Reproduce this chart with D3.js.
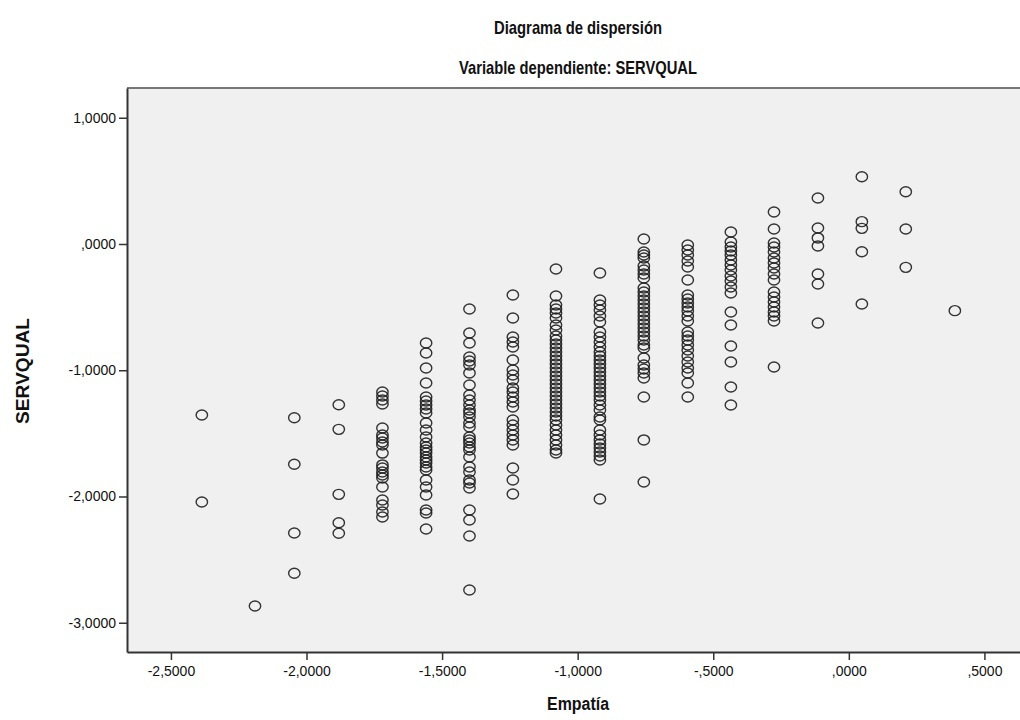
<!DOCTYPE html>
<html>
<head>
<meta charset="utf-8">
<title>Diagrama de dispersión</title>
<script src="https://d3js.org/d3.v7.min.js"></script>
<style>
    body { margin: 0; background: #ffffff; }
    svg text { font-family: "Liberation Sans", Arial, sans-serif; fill: #111; }
</style>
</head>
<body>
<div id="chart"></div>
<script>
// Empatía value of each column of points
var empatiaCols = [-2.386, -2.190, -2.045, -1.881, -1.720, -1.559, -1.399, -1.239,
    -1.080, -0.918, -0.756, -0.594, -0.435, -0.276, -0.114, 0.048, 0.210, 0.391];

// SERVQUAL values in each column
var servqualCols = [
    [-1.354, -2.044],
    [-2.867],
    [-1.376, -1.745, -2.289, -2.608],
    [-1.273, -1.468, -1.983, -2.208, -2.291],
    [-1.172, -1.204, -1.236, -1.267, -1.457, -1.513, -1.537, -1.568, -1.592, -1.656,
     -1.750, -1.774, -1.806, -1.830, -1.853, -1.925, -2.028, -2.067, -2.123, -2.162],
    [-0.784, -0.863, -0.982, -1.101, -1.212, -1.244, -1.275, -1.307, -1.339, -1.418,
     -1.473, -1.529, -1.576, -1.608, -1.632, -1.656, -1.687, -1.711, -1.735, -1.766,
     -1.790, -1.869, -1.925, -1.988, -2.107, -2.131, -2.257],
    [-0.515, -0.705, -0.784, -0.895, -0.927, -0.958, -1.022, -1.117, -1.196, -1.236,
     -1.275, -1.315, -1.339, -1.370, -1.418, -1.450, -1.529, -1.552, -1.576, -1.608,
     -1.632, -1.687, -1.766, -1.806, -1.869, -1.893, -1.933, -2.107, -2.186, -2.313, -2.741],
    [-0.404, -0.586, -0.737, -0.776, -0.816, -0.919, -0.998, -1.038, -1.077, -1.141,
     -1.172, -1.212, -1.251, -1.291, -1.394, -1.434, -1.473, -1.513, -1.552, -1.592,
     -1.774, -1.869, -1.980],
    [-0.198, -0.412, -0.483, -0.515, -0.547, -0.586, -0.642, -0.681, -0.729, -0.760,
     -0.792, -0.824, -0.855, -0.887, -0.919, -0.950, -0.982, -1.014, -1.046, -1.077,
     -1.109, -1.141, -1.172, -1.204, -1.236, -1.267, -1.299, -1.331, -1.362, -1.394,
     -1.434, -1.473, -1.513, -1.552, -1.592, -1.632, -1.655],
    [-0.230, -0.444, -0.483, -0.523, -0.570, -0.618, -0.697, -0.737, -0.776, -0.816,
     -0.855, -0.887, -0.919, -0.950, -0.982, -1.014, -1.046, -1.077, -1.109, -1.141,
     -1.172, -1.204, -1.236, -1.275, -1.315, -1.370, -1.394, -1.473, -1.513, -1.552,
     -1.584, -1.616, -1.648, -1.679, -1.711, -2.020],
    [0.040, -0.063, -0.087, -0.111, -0.174, -0.206, -0.238, -0.269, -0.349, -0.380,
     -0.412, -0.444, -0.475, -0.507, -0.539, -0.570, -0.602, -0.634, -0.665, -0.697,
     -0.729, -0.760, -0.800, -0.824, -0.903, -0.958, -0.990, -1.022, -1.061, -1.212,
     -1.552, -1.885],
    [-0.008, -0.048, -0.087, -0.135, -0.182, -0.285, -0.404, -0.436, -0.467, -0.499,
     -0.531, -0.570, -0.610, -0.697, -0.729, -0.760, -0.800, -0.840, -0.887, -0.935,
     -0.982, -1.022, -1.101, -1.212],
    [0.095, 0.016, -0.024, -0.055, -0.087, -0.127, -0.166, -0.206, -0.253, -0.293,
     -0.341, -0.388, -0.539, -0.642, -0.808, -0.935, -1.133, -1.275],
    [0.253, 0.119, 0.008, -0.024, -0.063, -0.111, -0.150, -0.190, -0.238, -0.285,
     -0.380, -0.420, -0.459, -0.499, -0.539, -0.570, -0.610, -0.974],
    [0.364, 0.127, 0.048, -0.016, -0.238, -0.317, -0.626],
    [0.533, 0.177, 0.124, -0.061, -0.475],
    [0.414, 0.119, -0.185],
    [-0.528]
];

var xTicks = [-2.5, -2.0, -1.5, -1.0, -0.5, 0.0, 0.5];
var yTicks = [1, 0, -1, -2, -3];

var margin = { top: 88, right: 0, bottom: 68, left: 127 },
    width = 1022 - margin.left,
    height = 720 - margin.top - margin.bottom;

var svg = d3.select("#chart")
    .append("svg")
    .attr("width", 1020)
    .attr("height", 720)
    .style("display", "block");

var g = svg.append("g")
    .attr("transform", "translate(" + margin.left + "," + margin.top + ")");

var x = d3.scaleLinear()
    .domain([-2.662, 0.6386])
    .range([0, width]);

var y = d3.scaleLinear()
    .domain([-3.2317, 1.2356])
    .range([height, 0]);

// spanish style labels: 1,0000  ,0000  -,5000
function spss(v) {
    var s = d3.format(".4f")(Math.abs(v));
    if (s.charAt(0) == "0") s = s.slice(1);
    s = s.replace(".", ",");
    return (v < 0 ? "-" : "") + s;
}

// plot background
g.append("rect")
    .attr("width", width)
    .attr("height", height)
    .attr("fill", "#f0f0f0");

g.append("line")
    .attr("x1", 0).attr("x2", width)
    .attr("y1", 0).attr("y2", 0)
    .attr("stroke", "#777")
    .attr("stroke-width", 2);

// points
var pts = [];
empatiaCols.forEach(function (ex, i) {
    servqualCols[i].forEach(function (sv) { pts.push([ex, sv]); });
});

g.append("g")
    .selectAll("ellipse")
    .data(pts)
    .enter()
    .append("ellipse")
    .attr("cx", function (d) { return x(d[0]); })
    .attr("cy", function (d) { return y(d[1]); })
    .attr("rx", 5.7)
    .attr("ry", 5.0)
    .attr("fill", "none")
    .attr("stroke", "#1e1e1e")
    .attr("stroke-opacity", 0.9)
    .attr("stroke-width", 1.4);

// axes
var xAxis = g.append("g")
    .attr("transform", "translate(0," + height + ")")
    .call(d3.axisBottom(x).tickValues(xTicks).tickFormat(spss).tickSize(8).tickSizeOuter(0));

var yAxis = g.append("g")
    .call(d3.axisLeft(y).tickValues(yTicks).tickFormat(spss).tickSize(8).tickSizeOuter(0));

[xAxis, yAxis].forEach(function (a) {
    a.select(".domain").attr("stroke", "#333").attr("stroke-width", 2);
    a.selectAll(".tick line").attr("stroke", "#333").attr("stroke-width", 1.5);
    a.selectAll(".tick text")
        .style("font-size", "14px")
        .attr("fill", "#111");
});
xAxis.selectAll(".tick text").attr("y", 10).attr("dy", "1em");
yAxis.selectAll(".tick text").attr("x", -11);

// titles (SPSS draws them narrow)
svg.append("text")
    .attr("x", 578)
    .attr("y", 34)
    .attr("text-anchor", "middle")
    .style("font-size", "19px")
    .style("font-weight", "bold")
    .attr("textLength", 168)
    .attr("lengthAdjust", "spacingAndGlyphs")
    .text("Diagrama de dispersión");

svg.append("text")
    .attr("x", 578)
    .attr("y", 74)
    .attr("text-anchor", "middle")
    .style("font-size", "19px")
    .style("font-weight", "bold")
    .attr("textLength", 238)
    .attr("lengthAdjust", "spacingAndGlyphs")
    .text("Variable dependiente: SERVQUAL");

svg.append("text")
    .attr("x", 578)
    .attr("y", 710)
    .attr("text-anchor", "middle")
    .style("font-size", "18px")
    .style("font-weight", "bold")
    .attr("textLength", 62)
    .attr("lengthAdjust", "spacingAndGlyphs")
    .text("Empatía");

svg.append("text")
    .attr("transform", "translate(29,371) rotate(-90)")
    .attr("text-anchor", "middle")
    .style("font-size", "18px")
    .style("font-weight", "bold")
    .attr("textLength", 106)
    .attr("lengthAdjust", "spacingAndGlyphs")
    .text("SERVQUAL");
</script>
</body>
</html>
